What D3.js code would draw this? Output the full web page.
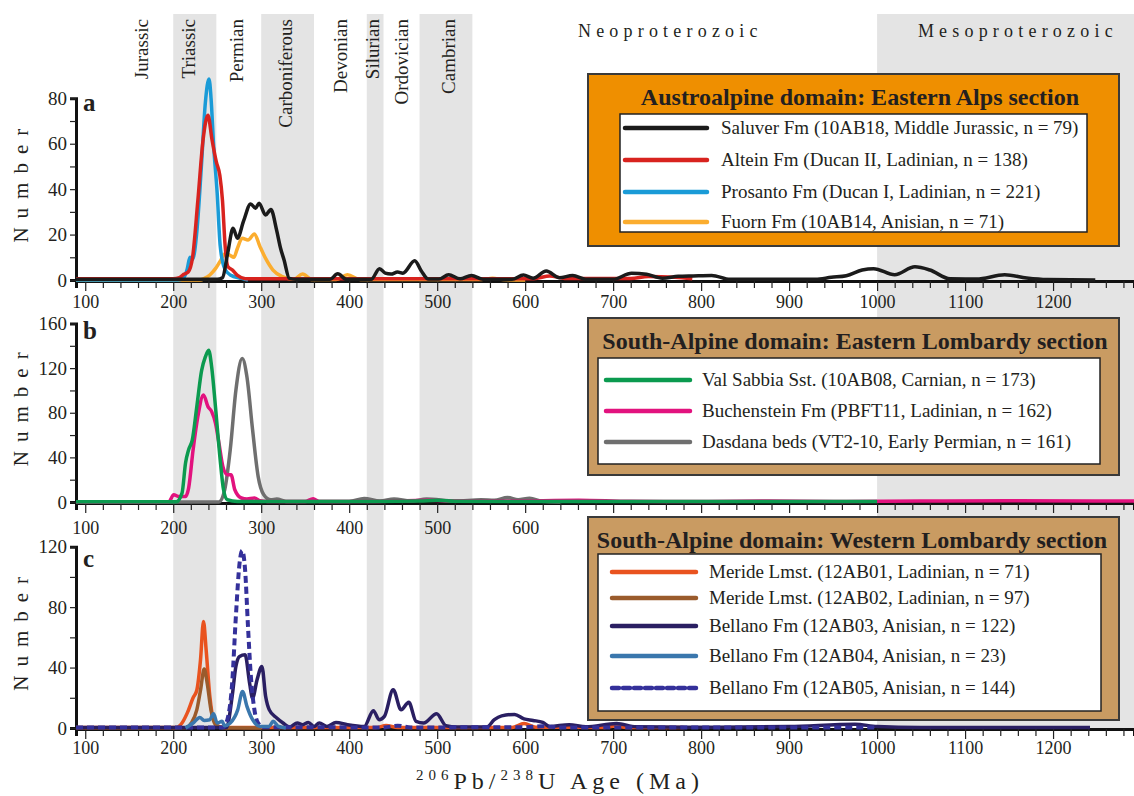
<!DOCTYPE html>
<html>
<head>
<meta charset="utf-8">
<script src="https://cdn.jsdelivr.net/npm/d3@7"></script>
<style>
body { margin: 0; background: #fff; }
svg text { font-family: "Liberation Serif", "Times New Roman", serif; fill: #231f20; }
</style>
</head>
<body>
<div id="output"></div>
<script>
// ---- data (age in Ma, number) ----
var tickAges = d3.range(100, 1300, 20);
var tickLabels = [100, 200, 300, 400, 500, 600, 700, 800, 900, 1000, 1100, 1200];

var periodNames = ["Jurassic", "Triassic", "Permian", "Carboniferous", "Devonian", "Silurian", "Ordovician", "Cambrian"];
var periodLabelAge = [164, 218, 273, 328, 391, 427, 460, 514];
var shadedBands = [[200, 249], [300, 360], [420, 439], [480, 540], [1000, 1292]];
var eonNames = ["Neoproterozoic", "Mesoproterozoic"];
var eonLabelAge = [765, 1160];

// panel a: Austroalpine domain
var saluver = [[89.5,0.3],[250,0.3],[256,1],[262,12],[268,22.8],[273,18.4],[280,26],[288,33.5],[293.5,31.6],[297.5,33.8],[305,28.6],[311,31],[317.5,22],[322,14],[326,8.8],[332,0.7],[340,0.3],[378,0.3],[387,2.7],[397,0.3],[425,0.3],[434.5,5],[441,3],[447.5,2.6],[455,3.5],[461,3],[474.5,8.5],[482,4],[490,0.4],[502,0.4],[513,2.3],[526,0.5],[539,2],[552,0.3],[585,0.3],[598,2.2],[609,0.8],[624,4],[639,1],[654,2],[669,0.3],[700,0.3],[721,3],[738,2.5],[756,0.8],[774,1.6],[791,1.8],[812,2],[833,0.3],[930,0.3],[948,1.2],[965,1.9],[983,4.4],[996,5],[1020,2.3],[1043,5.8],[1060,4.4],[1083,0.5],[1113,0.4],[1145,2.3],[1170,0.9],[1193,0.2],[1248,0]];
var altein = [[89.5,0.5],[200,0.5],[207,1],[212,2.5],[217,3.5],[222,10],[228,35],[234,62],[239.5,72.5],[244,62],[249,52],[253,46],[256,35],[259,15],[262,6],[267,4.5],[273,2],[282,0.6],[400,0.6],[500,0.6],[610,0.6],[628,1.8],[645,0.7],[720,0.7],[740,1.5],[770,1.2],[790,0.5]];
var prosanto = [[89.5,0],[205,0],[212,1],[216,5],[219,10],[222,9],[227,22],[232,50],[236.5,78],[240.7,88.5],[243,80],[245.8,60],[250,38],[253.4,15],[258.5,5],[264.8,2.2],[277.5,0.7],[285,0]];
var fuorn = [[89.5,0],[230,0],[236,0.8],[241.6,2.2],[248,5],[253,8],[259.3,11.7],[264,11],[269,10],[273,14],[278.4,18.4],[285,17.6],[292.3,20.3],[298.6,14.7],[305,9.5],[313.4,4.4],[324,1.5],[336.7,0.3],[347,2.6],[357.8,0.2],[385,0.2],[398,2.3],[412.8,0.2],[550,0.2],[563,0.8],[575,0.2],[600,0]];

// panel b: South-Alpine, Eastern Lombardy
var valSabbia = [[89.5,0.3],[203.5,0.3],[210,8],[214,35],[217.5,46.8],[221.7,55.7],[226.8,85.5],[232.3,118],[236.5,130],[240.3,136],[243.7,121],[248,85.5],[253,40.8],[257.2,11],[261.5,2],[273,0.5],[400,0.4],[480,0.8],[500,1.5],[520,0.6],[700,0.4],[850,0.5],[1000,0.4]];
var buchenstein = [[89.5,0.3],[195,0.3],[200.6,6.5],[205.7,5],[214,5],[217.5,12.5],[222.6,46.8],[228,76.6],[234.4,96],[239.5,85.5],[243.7,81],[248,70.6],[252,52.7],[256.4,31.9],[261.5,24.4],[265.7,24.4],[270,11],[277.5,3.6],[283.8,2.7],[292.3,3.6],[298.6,1.2],[307,0.5],[350,0.4],[359,3],[366,0.4],[420,0.5],[491,1.5],[520,0.8],[580,0.8],[661,1.6],[720,0.6],[800,0.5],[878,0.8],[950,0.5],[1050,0.9],[1150,1.2],[1292,0.8]];
var dasdana = [[89.5,0],[252,0],[258.5,11],[264.8,46.8],[271.2,100],[278.4,128.7],[283.8,112],[290.2,64.7],[296.5,23],[302.9,6.6],[311,2],[317.7,2.7],[328,0.5],[400,0.5],[417,3.2],[435,0.8],[451,2.7],[470,0.8],[488,2.6],[520,0.8],[550,2.1],[565,1.5],[580,4],[592,2],[605,3.3],[620,0.6],[640,0]];

// panel c: South-Alpine, Western Lombardy
var meride01 = [[89.5,0.3],[203.5,0.3],[210,3.3],[216,10],[222.6,20],[226.8,25],[231,45],[234.4,70.5],[237.4,51.8],[241.6,21],[245.8,5.5],[252,1],[260,0.3],[430,0.3],[442,1.6],[455,0.3],[585,0.3],[598.7,2.9],[612,0.5],[690,0.4],[702,1.3],[715,0.4],[780,0.3]];
var meride02 = [[89.5,0.2],[214,0.2],[220.5,3.3],[226.8,12],[231,25],[235.2,39],[238.6,29.7],[242.9,12],[248,2.2],[256.4,0.2],[300,0]];
var bellano03 = [[89.5,0.3],[260.6,0.3],[267,21],[271.2,40.7],[275.4,47.4],[281.7,48.5],[286.8,29.7],[290.2,19.8],[295.3,32],[300.8,40.7],[305,21],[309.2,12],[317.7,6.6],[324.8,3.3],[332.5,0.7],[341,3.3],[347,2.2],[353.6,3.7],[360,1],[366,3.3],[374.7,1],[385,3.7],[398,2.2],[417,1],[427.5,11.5],[434,5.5],[440,7.7],[450,25.3],[459,12],[467.7,17],[476,4.4],[484.6,3.3],[499.4,9.5],[510,1.5],[522.6,0.7],[556.5,0.7],[565,5.5],[573.3,8],[588,9],[598.7,6],[609,5],[620,3.7],[628,1],[650,2.2],[669,0.8],[704,3],[726,0.8],[800,0.5],[900,1],[975,2.5],[1000,1],[1050,0.4],[1242,0.3]];
var bellano04 = [[214,0],[222.6,3.3],[230.2,7],[235.2,5],[241.6,5.5],[245.8,9.5],[250,3.3],[255.5,4.4],[258.5,1.5],[264.8,3.3],[273.3,12],[278.8,24.2],[283.8,14.3],[290.2,5.5],[298.6,1],[309,1],[313.4,4.4],[319.8,1],[328,0]];
var bellano05 = [[89.5,0.3],[256.4,0.3],[261.5,5.5],[267,29.7],[271.2,73.8],[275.4,109],[278.4,117.4],[281.7,104.6],[285,67],[288,36.3],[292.3,12],[296.5,3.3],[303,0.5],[440,0.4],[455,1.5],[470,0.4],[600,0.5],[620,1.2],[640,0.4],[1000,0.4]];

var titleA = "Austroalpine domain: Eastern Alps section";
var titleB = "South-Alpine domain: Eastern Lombardy section";
var titleC = "South-Alpine domain: Western Lombardy section";
var namesA = ["Saluver Fm (10AB18, Middle Jurassic, n = 79)", "Altein Fm (Ducan II, Ladinian, n = 138)", "Prosanto Fm (Ducan I, Ladinian, n = 221)", "Fuorn Fm (10AB14, Anisian, n = 71)"];
var namesB = ["Val Sabbia Sst. (10AB08, Carnian, n = 173)", "Buchenstein Fm (PBFT11, Ladinian, n = 162)", "Dasdana beds (VT2-10, Early Permian, n = 161)"];
var namesC = ["Meride Lmst. (12AB01, Ladinian, n = 71)", "Meride Lmst. (12AB02, Ladinian, n = 97)", "Bellano Fm (12AB03, Anisian, n = 122)", "Bellano Fm (12AB04, Anisian, n = 23)", "Bellano Fm (12AB05, Anisian, n = 144)"];

// ---- layout ----
var w = 1134, h = 796;
var serif = "'Liberation Serif', 'Times New Roman', serif";

var svg = d3.select("#output").append("svg")
    .attr("width", w)
    .attr("height", h);

var x = d3.scaleLinear()
    .domain([89.5, 1292])
    .range([76, 1134]);

var bandTop = 14, bandBottom = 728;

svg.selectAll(".band")
    .data(shadedBands)
    .enter()
    .append("rect")
    .attr("class", "band")
    .attr("x", function (d) { return x(d[0]) })
    .attr("width", function (d) { return x(d[1]) - x(d[0]) })
    .attr("y", bandTop)
    .attr("height", bandBottom - bandTop)
    .attr("fill", "#e4e4e4");

svg.selectAll(".period")
    .data(periodNames)
    .enter()
    .append("text")
    .attr("class", "period")
    .attr("transform", function (d, i) {
        return "translate(" + (x(periodLabelAge[i]) + 6) + ",19) rotate(-90)"
    })
    .attr("text-anchor", "end")
    .style("font-size", "19px")
    .text(function (d) { return d });

svg.selectAll(".eon")
    .data(eonNames)
    .enter()
    .append("text")
    .attr("class", "eon")
    .attr("x", function (d, i) { return x(eonLabelAge[i]) })
    .attr("y", 37)
    .attr("text-anchor", "middle")
    .style("font-size", "18px")
    .style("letter-spacing", "5.2px")
    .text(function (d) { return d });

var line = d3.line()
    .x(function (d) { return x(d[0]) })
    .curve(d3.curveMonotoneX);

function drawPanel(p) {
    var y = d3.scaleLinear()
        .domain([0, p.ymax])
        .range([p.y0, p.ytop]);

    var g = svg.append("g");

    // x axis, labels hidden where the next legend box covers them
    var xAxis = d3.axisBottom(x)
        .tickValues(tickAges)
        .tickSizeOuter(0)
        .tickSize(7)
        .tickFormat(function (d) { return (tickLabels.indexOf(d) >= 0 && d <= p.labelMax) ? d : "" });

    var xa = g.append("g")
        .attr("transform", "translate(0," + (p.y0 + 1) + ")")
        .call(xAxis)
        .attr("font-family", serif)
        .attr("font-size", 18);
    xa.select(".domain").attr("stroke", "#111").attr("stroke-width", 3);
    xa.selectAll(".tick line")
        .attr("stroke", "#222")
        .attr("stroke-width", 1.2)
        .attr("y2", function (d) { return d % 100 == 0 ? 10 : 7 });
    xa.selectAll(".tick text")
        .attr("y", p.labelGap)
        .attr("fill", "#231f20")
        .style("font-family", serif)
        .style("font-size", "18px");

    // y axis
    var yAxis = d3.axisLeft(y)
        .tickValues(d3.range(0, p.ymax + 1, p.minor))
        .tickSizeOuter(0)
        .tickSize(6)
        .tickFormat(function (d) { return d % p.major == 0 ? d : "" });

    var ya = g.append("g")
        .attr("transform", "translate(76,0)")
        .call(yAxis)
        .attr("font-family", serif)
        .attr("font-size", 19);
    ya.select(".domain").attr("stroke", "#111").attr("stroke-width", 3);
    ya.selectAll(".tick line").attr("stroke", "#222").attr("stroke-width", 1.2);
    ya.selectAll(".tick text")
        .attr("fill", "#231f20")
        .style("font-family", serif)
        .style("font-size", "19px");

    g.append("text")
        .attr("transform", "translate(28," + ((p.y0 + p.ytop) / 2 - 8) + ") rotate(-90)")
        .attr("text-anchor", "middle")
        .style("font-size", "21px")
        .style("letter-spacing", "9px")
        .text("Number");

    g.append("text")
        .attr("x", 83)
        .attr("y", p.letterY)
        .style("font-size", "25px")
        .style("font-weight", "bold")
        .text(p.letter);

    // curves
    p.series.forEach(function (s) {
        g.append("path")
            .datum(s.data)
            .attr("fill", "none")
            .attr("stroke", s.color)
            .attr("stroke-width", s.width || 3.5)
            .attr("stroke-linejoin", "round")
            .attr("stroke-dasharray", s.dash || null)
            .attr("d", line.y(function (d) { return y(d[1]) }));
    });

    // legend
    var L = p.legend;
    g.append("rect")
        .attr("x", 588).attr("y", L.top)
        .attr("width", 531).attr("height", L.height)
        .attr("fill", L.fill)
        .attr("stroke", "#3a3a3a").attr("stroke-width", 2);
    g.append("text")
        .attr("x", L.titleX).attr("y", L.titleY)
        .attr("text-anchor", "middle")
        .style("font-size", "24px")
        .style("font-weight", "bold")
        .text(L.title);
    g.append("rect")
        .attr("x", L.boxX).attr("y", L.boxY)
        .attr("width", L.boxW).attr("height", L.boxH)
        .attr("fill", "#fff")
        .attr("stroke", "#222").attr("stroke-width", 1.5);

    var rows = g.selectAll(".row" + p.letter)
        .data(L.names)
        .enter()
        .append("g")
        .attr("transform", function (d, i) { return "translate(0," + L.rows[i] + ")" });
    rows.append("line")
        .attr("x1", L.lineX[0]).attr("x2", L.lineX[1])
        .attr("stroke", function (d, i) { return L.order[i].color })
        .attr("stroke-width", 4.5)
        .attr("stroke-linecap", "round")
        .attr("stroke-dasharray", function (d, i) { return L.order[i].dash ? "7,4" : null });
    rows.append("text")
        .attr("x", L.textX)
        .attr("dy", "0.33em")
        .style("font-size", "19px")
        .text(function (d) { return d });
}

var sSaluver = {data: saluver, color: "#1b1b1b"};
var sAltein = {data: altein, color: "#d8231f"};
var sProsanto = {data: prosanto, color: "#1a9bd7"};
var sFuorn = {data: fuorn, color: "#fbad2f"};

drawPanel({
    letter: "a", letterY: 111, y0: 280, ytop: 98.3, ymax: 80, minor: 10, major: 20, labelGap: 14, labelMax: 1200,
    series: [sFuorn, sProsanto, sAltein, sSaluver],
    legend: {
        top: 74, height: 172, fill: "#ef8f00", title: titleA, titleX: 860, titleY: 105,
        boxX: 620, boxY: 114, boxW: 467, boxH: 118,
        rows: [128, 160, 192, 222], lineX: [625, 707], textX: 721,
        names: namesA, order: [sSaluver, sAltein, sProsanto, sFuorn]
    }
});

var sValSabbia = {data: valSabbia, color: "#0b9a4f"};
var sBuchenstein = {data: buchenstein, color: "#e2127e"};
var sDasdana = {data: dasdana, color: "#6f6f6f"};

drawPanel({
    letter: "b", letterY: 339, y0: 502, ytop: 323.5, ymax: 160, minor: 20, major: 40, labelGap: 18, labelMax: 600,
    series: [sDasdana, sBuchenstein, sValSabbia],
    legend: {
        top: 318, height: 157, fill: "#c99b62", title: titleB, titleX: 855, titleY: 349,
        boxX: 598, boxY: 358, boxW: 502, boxH: 106,
        rows: [380, 411, 442], lineX: [606, 690], textX: 702,
        names: namesB, order: [sValSabbia, sBuchenstein, sDasdana]
    }
});

var sMeride01 = {data: meride01, color: "#e9531f"};
var sMeride02 = {data: meride02, color: "#9a5b2c"};
var sBellano03 = {data: bellano03, color: "#2a1f62"};
var sBellano04 = {data: bellano04, color: "#3a77ad"};
var sBellano05 = {data: bellano05, color: "#34309a", dash: "7,4", width: 4};

drawPanel({
    letter: "c", letterY: 567, y0: 728, ytop: 546.7, ymax: 120, minor: 20, major: 40, labelGap: 12, labelMax: 1200,
    series: [sMeride01, sMeride02, sBellano03, sBellano05, sBellano04],
    legend: {
        top: 517, height: 203, fill: "#c99b62", title: titleC, titleX: 852, titleY: 548,
        boxX: 598, boxY: 554, boxW: 503, boxH: 157,
        rows: [572, 598, 626, 656, 688], lineX: [612, 696], textX: 709,
        names: namesC, order: [sMeride01, sMeride02, sBellano03, sBellano04, sBellano05]
    }
});

// x axis title
var xt = svg.append("text")
    .attr("x", 560)
    .attr("y", 789)
    .attr("text-anchor", "middle")
    .style("font-size", "24px")
    .style("letter-spacing", "5px");
xt.append("tspan").text("206").style("font-size", "15px").attr("dy", -9);
xt.append("tspan").text("Pb/").attr("dy", 9);
xt.append("tspan").text("238").style("font-size", "15px").attr("dy", -9);
xt.append("tspan").text("U Age (Ma)").attr("dy", 9);
</script>
</body>
</html>
